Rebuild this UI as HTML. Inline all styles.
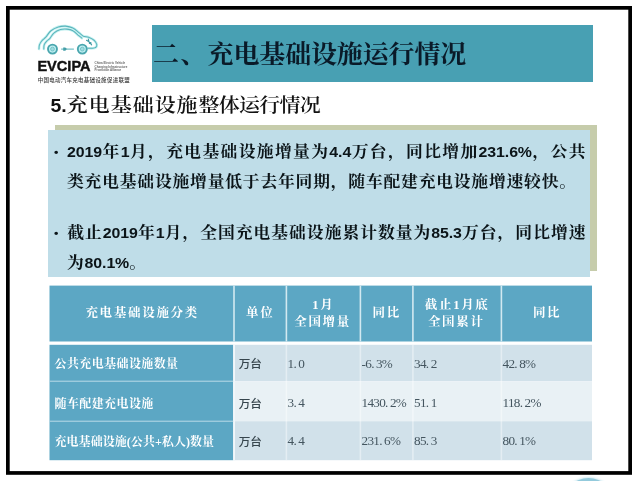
<!DOCTYPE html>
<html lang="zh-CN">
<head>
<meta charset="utf-8">
<title>充电基础设施运行情况</title>
<style>
html,body{margin:0;padding:0;background:#fff;}
body{width:640px;height:481px;position:relative;overflow:hidden;filter:blur(0.55px);font-family:"Liberation Serif","Noto Serif CJK SC",serif;color:#111;}
.abs{position:absolute;}
#banner{left:152px;top:25px;width:441px;height:57px;background:#48a0b3;}
#title{left:153px;top:26.6px;height:57px;line-height:57px;font-size:26px;letter-spacing:-0.15px;white-space:nowrap;color:#0a1a28;font-weight:700;transform:scaleY(0.94);transform-origin:0 27.5px;}
#title span{letter-spacing:1.3px;}
#sub{left:50.5px;top:91.7px;height:28px;line-height:28px;transform:scaleY(0.93);transform-origin:0 13.6px;font-size:21px;letter-spacing:0.2px;white-space:nowrap;color:#111;font-weight:600;}
#sub .w{letter-spacing:0.95px;}
#sub .c{letter-spacing:-0.75px;}
#sub b{font-family:"Liberation Sans",sans-serif;font-weight:bold;font-size:19.5px;letter-spacing:0;margin-right:0.1px;}
#shadow{left:55px;top:125px;width:542px;height:146px;background:#c6ccab;}
#box{left:48px;top:130px;width:542px;height:147px;background:#bfdde8;}
.para{transform:scaleY(0.92);transform-origin:0 21.8px;left:54px;width:532.3px;white-space:nowrap;font-size:16.8px;letter-spacing:0.8px;line-height:30px;font-weight:bold;color:#0b1418;text-align:justify;}
.para .n{font-family:"Liberation Sans",sans-serif;font-weight:bold;font-size:15.9px;letter-spacing:-0.1px;position:relative;top:-0.4px;}
.para .bl{display:inline-block;width:13px;font-family:"Liberation Sans",sans-serif;font-size:12.5px;vertical-align:1px;text-align:left;}
.para.j{text-align-last:justify;white-space:normal;}
/* table */
.cell{position:absolute;box-sizing:border-box;}
.h{color:#fff;font-weight:bold;font-size:12.5px;text-align:center;display:flex;align-items:center;justify-content:center;line-height:16.5px;letter-spacing:1.7px;text-indent:1.7px;}
.l{color:#fff;font-weight:bold;font-size:12px;letter-spacing:0.4px;display:flex;align-items:center;padding-left:5px;white-space:nowrap;}
.d{color:#44555f;font-size:13.2px;display:flex;align-items:center;padding-left:2px;padding-top:1.5px;white-space:pre;letter-spacing:-0.72px;word-spacing:-0.3px;}
.u{font-family:"Liberation Sans","Noto Sans CJK SC",sans-serif;font-size:11.6px;font-weight:500;padding-left:5.5px;padding-top:0;letter-spacing:0;word-spacing:0;color:#36454d;}
</style>
</head>
<body>
<svg id="frame" class="abs" style="left:0;top:0" width="640" height="481" viewBox="0 0 640 481"><rect x="7.85" y="7.85" width="622.3" height="465.1" fill="none" stroke="#000" stroke-width="3.7"/></svg>

<svg class="abs" id="logo" style="left:30px;top:20px" width="110" height="70" viewBox="30 20 110 70">
  <g transform="translate(67.9 49.2) scale(0.93 0.965) translate(-68.2 -49)">
  <g fill="none" stroke="#c4f0f0" stroke-width="2.8" stroke-linecap="round" stroke-linejoin="round">
    <path d="M37.1 48.8 C37.2 48.1 37.1 46.0 37.6 44.5 C38.2 43.0 39.3 41.3 40.4 40.0 C41.6 38.7 42.8 38.3 44.4 36.6 C46.0 34.9 47.7 31.7 50.0 29.9 C52.2 28.1 55.2 26.7 57.9 25.9 C60.5 25.1 63.1 25.0 65.7 25.1 C68.4 25.3 71.2 25.9 73.6 27.1 C76.1 28.2 78.5 30.7 80.4 32.1 C82.2 33.5 83.2 34.7 84.9 35.5 C86.6 36.2 88.5 35.9 90.5 36.6 C92.5 37.4 95.2 38.7 96.7 40.0 C98.1 41.3 99.0 43.1 99.3 44.3 C99.5 45.5 98.9 46.6 98.1 47.2 C97.4 47.8 96.4 47.9 95.0 48.0 C93.6 48.1 90.8 48.0 89.9 48.0"/>
    <path d="M42.3 48.8 C42.4 48.1 42.2 45.9 42.7 44.5 C43.2 43.1 44.5 41.7 45.5 40.6 C46.5 39.4 47.6 39.2 48.9 37.7 C50.2 36.3 51.5 33.6 53.4 32.1 C55.2 30.6 57.9 29.4 60.1 28.7 C62.4 28.1 64.6 28.0 66.9 28.2 C69.1 28.4 71.6 28.8 73.6 29.9 C75.7 30.9 77.7 33.1 79.2 34.4 C80.8 35.6 82.5 37.0 83.2 37.5"/>
  </g>
  <g fill="none" stroke="#5ab4bb" stroke-width="1.1" stroke-linecap="round" stroke-linejoin="round">
    <path d="M37.1 48.8 C37.2 48.1 37.1 46.0 37.6 44.5 C38.2 43.0 39.3 41.3 40.4 40.0 C41.6 38.7 42.8 38.3 44.4 36.6 C46.0 34.9 47.7 31.7 50.0 29.9 C52.2 28.1 55.2 26.7 57.9 25.9 C60.5 25.1 63.1 25.0 65.7 25.1 C68.4 25.3 71.2 25.9 73.6 27.1 C76.1 28.2 78.5 30.7 80.4 32.1 C82.2 33.5 83.2 34.7 84.9 35.5 C86.6 36.2 88.5 35.9 90.5 36.6 C92.5 37.4 95.2 38.7 96.7 40.0 C98.1 41.3 99.0 43.1 99.3 44.3 C99.5 45.5 98.9 46.6 98.1 47.2 C97.4 47.8 96.4 47.9 95.0 48.0 C93.6 48.1 90.8 48.0 89.9 48.0"/>
    <path d="M42.3 48.8 C42.4 48.1 42.2 45.9 42.7 44.5 C43.2 43.1 44.5 41.7 45.5 40.6 C46.5 39.4 47.6 39.2 48.9 37.7 C50.2 36.3 51.5 33.6 53.4 32.1 C55.2 30.6 57.9 29.4 60.1 28.7 C62.4 28.1 64.6 28.0 66.9 28.2 C69.1 28.4 71.6 28.8 73.6 29.9 C75.7 30.9 77.7 33.1 79.2 34.4 C80.8 35.6 82.5 37.0 83.2 37.5"/>
  </g>
  </g>
  <g stroke="#4aa6ae" fill="#bfeef0">
    <circle cx="52.5" cy="49.1" r="4.5" stroke-width="1.9"/>
    <circle cx="82.3" cy="49.1" r="4.5" stroke-width="1.9"/>
    <circle cx="52.5" cy="49.1" r="1.9" stroke-width="0.9" fill="#9fdde0" stroke="#6fc0c6"/>
    <circle cx="82.3" cy="49.1" r="1.9" stroke-width="0.9" fill="#9fdde0" stroke="#6fc0c6"/>
  </g>
  <g stroke="#55b2ba" stroke-width="1" fill="#55b2ba" stroke-linecap="round">
    <path d="M61.5 49.1 H63.5 M67 49.1 H73.5" fill="none"/>
    <path d="M63.2 47.5 h2 l2.1 1.6 l-2.1 1.6 h-2 z" stroke="none" fill="#459fa8"/>
    <path d="M86.5 40.3 l4.6 2.6 M88.3 39.1 l1.2 4.4 M90.3 43.1 l1.3 1.8" fill="none" stroke="#3f9aa4" stroke-width="1.1"/>
  </g>
  <text x="37.4" y="70.8" font-family="'Liberation Sans', sans-serif" font-weight="bold" font-size="14.3" fill="#111" stroke="#111" stroke-width="0.4" textLength="53.2" lengthAdjust="spacingAndGlyphs">EVCIPA</text>
  <g font-family="'Liberation Sans', sans-serif" font-size="2.95" fill="#666" font-weight="bold">
    <text x="94.6" y="63.6">China Electric Vehicle</text>
    <text x="94.6" y="67.5">Charging Infrastructure</text>
    <text x="94.6" y="71.4">Promotion Alliance</text>
  </g>
  <text x="37.7" y="81.7" font-family="'Liberation Sans', 'Noto Sans CJK SC', sans-serif" font-weight="500" font-size="5.5" fill="#3a3a3a" textLength="92" lengthAdjust="spacing">中国电动汽车充电基础设施促进联盟</text>
</svg>

<div id="banner" class="abs"></div>
<div id="title" class="abs"><span>二、</span>充电基础设施运行情况</div>
<div id="sub" class="abs"><b>5.</b><span class="w">充电基础设施</span><span class="c">整体运行情况</span></div>

<div id="shadow" class="abs"></div>
<div id="box" class="abs"></div>
<div class="abs para j" style="top:137.05px"><span class="bl">•</span><span class="n">2019</span>年<span class="n">1</span>月，充电基础设施增量为<span class="n">4.4</span>万台，同比增加<span class="n">231.6%</span>，公共</div>
<div class="abs para" style="top:167.05px"><span class="bl"></span>类充电基础设施增量低于去年同期，随车配建充电设施增速较快。</div>
<div class="abs para j" style="top:218.25px"><span class="bl">•</span>截止<span class="n">2019</span>年<span class="n">1</span>月，全国充电基础设施累计数量为<span class="n">85.3</span>万台，同比增速</div>
<div class="abs para" style="top:248.25px"><span class="bl"></span>为<span class="n">80.1%</span>。</div>

<!-- table -->
<div id="tbl">
<svg class="abs" style="left:0;top:280px" width="640" height="190" viewBox="0 280 640 190">
<rect x="49.5" y="285.6" width="542.5" height="55.9" fill="#5ca7c4"/>
<rect x="49.5" y="344.8" width="183.7" height="115.4" fill="#5ca7c4"/>
<rect x="233.2" y="344.8" width="358.8" height="36.4" fill="#d1e1ea"/>
<rect x="233.2" y="381.2" width="358.8" height="40.0" fill="#e9f1f5"/>
<rect x="233.2" y="421.2" width="358.8" height="39.0" fill="#d1e1ea"/>
<rect x="233.2" y="285.6" width="1.6" height="55.9" fill="#d2e9f1"/>
<rect x="285.6" y="285.6" width="1.6" height="55.9" fill="#d2e9f1"/>
<rect x="359.6" y="285.6" width="1.6" height="55.9" fill="#d2e9f1"/>
<rect x="412.1" y="285.6" width="1.6" height="55.9" fill="#d2e9f1"/>
<rect x="500.6" y="285.6" width="1.6" height="55.9" fill="#d2e9f1"/>
<rect x="233.2" y="344.8" width="1.8" height="115.4" fill="#f1f7fa"/>
<rect x="285.6" y="344.8" width="1.6" height="115.4" fill="#ffffff" opacity="0.42"/>
<rect x="359.6" y="344.8" width="1.6" height="115.4" fill="#ffffff" opacity="0.42"/>
<rect x="412.1" y="344.8" width="1.6" height="115.4" fill="#ffffff" opacity="0.42"/>
<rect x="500.6" y="344.8" width="1.6" height="115.4" fill="#ffffff" opacity="0.42"/>
<rect x="49.5" y="380.7" width="183.7" height="1" fill="#b9dbe8"/>
<rect x="49.5" y="420.7" width="183.7" height="1" fill="#b9dbe8"/>
</svg>
<div class="cell h" style="left:49.5px;top:285.6px;width:183.7px;height:55.9px;">充电基础设施分类</div>
<div class="cell h" style="left:233.2px;top:285.6px;width:52.4px;height:55.9px;">单位</div>
<div class="cell h" style="left:285.6px;top:285.6px;width:74.0px;height:55.9px;">1月<br>全国增量</div>
<div class="cell h" style="left:359.6px;top:285.6px;width:52.5px;height:55.9px;">同比</div>
<div class="cell h" style="left:412.1px;top:285.6px;width:88.5px;height:55.9px;">截止1月底<br>全国累计</div>
<div class="cell h" style="left:500.6px;top:285.6px;width:91.4px;height:55.9px;">同比</div>
<div class="cell l" style="left:49.5px;top:344.8px;width:183.7px;height:36.4px;">公共充电基础设施数量</div>
<div class="cell d u" style="left:233.2px;top:344.8px;width:52.4px;height:36.4px;">万台</div>
<div class="cell d" style="left:285.6px;top:344.8px;width:74.0px;height:36.4px;">1. 0</div>
<div class="cell d" style="left:359.6px;top:344.8px;width:52.5px;height:36.4px;">-6. 3%</div>
<div class="cell d" style="left:412.1px;top:344.8px;width:88.5px;height:36.4px;">34. 2</div>
<div class="cell d" style="left:500.6px;top:344.8px;width:91.4px;height:36.4px;">42. 8%</div>
<div class="cell l" style="left:49.5px;top:382.6px;width:183.7px;height:40.0px;">随车配建充电设施</div>
<div class="cell d u" style="left:233.2px;top:382.6px;width:52.4px;height:40.0px;">万台</div>
<div class="cell d" style="left:285.6px;top:382.6px;width:74.0px;height:40.0px;">3. 4</div>
<div class="cell d" style="left:359.6px;top:382.6px;width:52.5px;height:40.0px;">1430. 2%</div>
<div class="cell d" style="left:412.1px;top:382.6px;width:88.5px;height:40.0px;">51. 1</div>
<div class="cell d" style="left:500.6px;top:382.6px;width:91.4px;height:40.0px;">118. 2%</div>
<div class="cell l" style="left:49.5px;top:421.2px;width:183.7px;height:39.0px;letter-spacing:0.05px;">充电基础设施(公共+私人)数量</div>
<div class="cell d u" style="left:233.2px;top:421.2px;width:52.4px;height:39.0px;">万台</div>
<div class="cell d" style="left:285.6px;top:421.2px;width:74.0px;height:39.0px;">4. 4</div>
<div class="cell d" style="left:359.6px;top:421.2px;width:52.5px;height:39.0px;">231. 6%</div>
<div class="cell d" style="left:412.1px;top:421.2px;width:88.5px;height:39.0px;">85. 3</div>
<div class="cell d" style="left:500.6px;top:421.2px;width:91.4px;height:39.0px;">80. 1%</div>
</div>

<div class="abs" style="left:563px;top:478px;width:51px;height:51px;border-radius:50%;background:#93cadc;box-shadow:0 0 2px 1px #d5edf4;"></div>
</body>
</html>
